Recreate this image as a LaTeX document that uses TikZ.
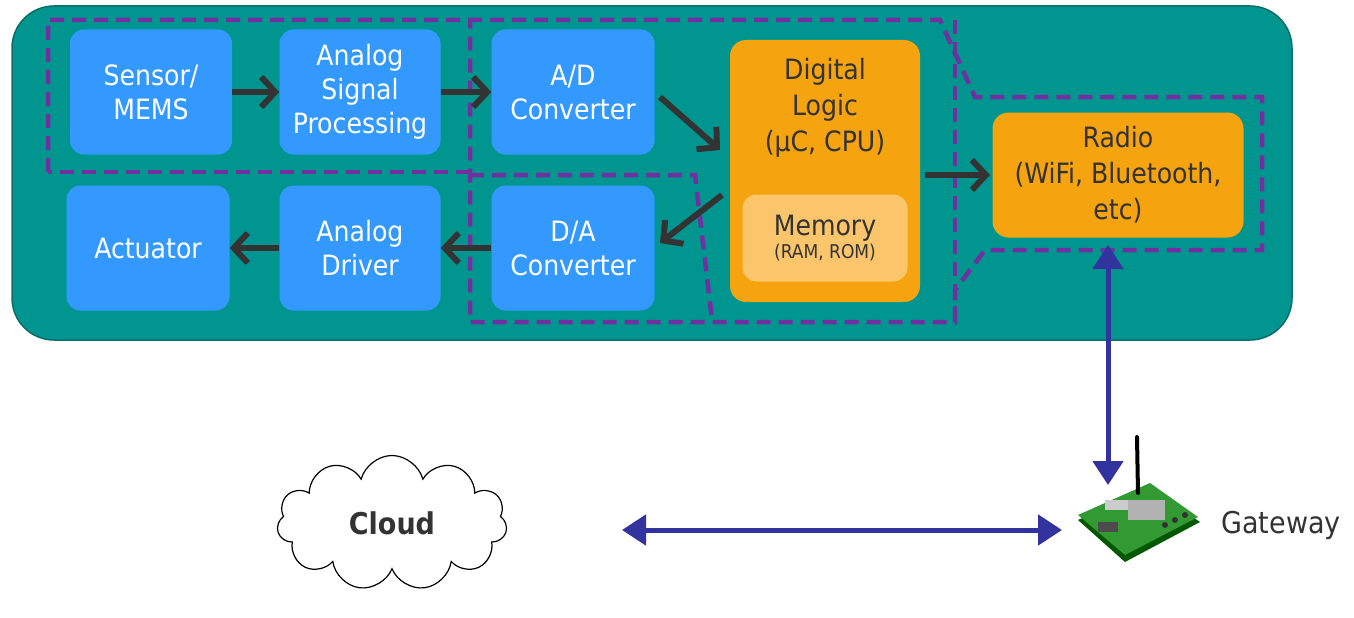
\documentclass[tikz,border=0pt]{standalone}
\usepackage{fontspec}
\setmainfont{DejaVu Sans Condensed}
\usetikzlibrary{shapes.symbols,arrows.meta}
\definecolor{teal1}{HTML}{00968F}
\definecolor{tealb}{HTML}{0B6E6A}
\definecolor{blu}{HTML}{3399FF}
\definecolor{org}{HTML}{F5A30F}
\definecolor{mem}{HTML}{FBC66B}
\definecolor{purp}{HTML}{7030A0}
\definecolor{navy}{HTML}{3333A0}
\definecolor{dk}{HTML}{333333}
\tikzset{
 blk/.style={fill=blu,rounded corners=14pt,text=white,align=center,font=\fontsize{28}{34}\selectfont,inner sep=0pt},
 obx/.style={fill=org,rounded corners=16pt,text=dk,align=center,font=\fontsize{28}{34}\selectfont,inner sep=0pt},
 flow/.style={dk,line width=6pt,-{Straight Barb[length=14pt,width=30pt,line width=6pt]}},
 dsh/.style={purp,line width=4.5pt,dash pattern=on 14pt off 8pt},
 link/.style={navy,line width=5pt,{Triangle[length=24pt,width=30pt]}-{Triangle[length=24pt,width=30pt]}}
}
\begin{document}
\begin{tikzpicture}[x=1pt,y=-1pt]
\useasboundingbox (0,0) rectangle (1354,618);
\fill[white] (0,0) rectangle (1354,618);
\draw[fill=teal1,draw=tealb,line width=1.5pt,rounded corners=42pt] (12,6) rectangle (1292,340);
% dashed
\draw[dsh] (48,172)--(48,20)--(940,20)--(975,97)--(1262,97)--(1262,250)--(985,250)--(955,290)--(955,322)--(470,322)--(470,20);
\draw[dsh] (470,172)--(48,172);
\draw[dsh] (470,175)--(695,175)--(712,320);
\draw[dsh] (955,20)--(955,322);
% blocks
\node[blk,minimum width=162pt,minimum height=125pt] (sen) at (151,92) {Sensor/\\MEMS};
\node[blk,minimum width=161pt,minimum height=125pt] (asp) at (360,92) {Analog\\Signal\\Processing};
\node[blk,minimum width=163pt,minimum height=125pt] (ad) at (573,92) {A/D\\Converter};
\node[blk,minimum width=163pt,minimum height=125pt] (act) at (148,248) {Actuator};
\node[blk,minimum width=161pt,minimum height=125pt] (drv) at (360,248) {Analog\\Driver};
\node[blk,minimum width=163pt,minimum height=125pt] (da) at (573,248) {D/A\\Converter};
\node[obx,minimum width=190pt,minimum height=262pt] (dl) at (825,171) {};
\node[text=dk,align=center,font=\fontsize{28}{36}\selectfont] (dlt) at (825,108) {Digital\\Logic\\(µC, CPU)};
\node[fill=mem,rounded corners=14pt,minimum width=165pt,minimum height=87pt,inner sep=0pt,text=dk,align=center] (mem) at (825,238) {\fontsize{28}{32}\selectfont Memory\\[2pt]\fontsize{19}{22}\selectfont (RAM, ROM)};
\node[obx,minimum width=251pt,minimum height=125pt,font=\fontsize{28}{36}\selectfont] (rad) at (1118,175) {Radio\\(WiFi, Bluetooth,\\etc)};
% flows
\draw[flow] (sen.east)--(asp.west);
\draw[flow] (asp.east)--(ad.west);
\draw[flow] (660,97)--(720,150);
\draw[flow] (925,175)--(990,175);
\draw[flow] (722,195)--(660,243);
\draw[flow] (da.west)--(drv.east);
\draw[flow] (drv.west)--(act.east);
% cloud
\node[cloud,cloud puffs=11,aspect=1.7,draw=black,fill=white,line width=1.2pt,minimum width=230pt,minimum height=135pt,font=\fontsize{30}{36}\selectfont\bfseries,text=dk] (cl) at (392,523) {Cloud};
% gateway
\begin{scope}
\fill[green!35!black] (1078,520)--(1150,488)--(1200,522)--(1125,562)--cycle;
\fill[green!50!black!80] (1078,515)--(1150,483)--(1198,517)--(1125,555)--cycle;
\fill[gray!60] (1128,500) rectangle (1165,520);
\fill[black!70] (1098,522) rectangle (1118,532);
\fill[gray!40] (1105,500) rectangle (1128,510);
\fill[black!80] (1165,525) circle (3pt) (1175,520) circle (3pt) (1185,515) circle (3pt);
\draw[black,line width=4pt,line cap=round] (1137,437)--(1138,493);
\end{scope}
\node[font=\fontsize{30}{36}\selectfont,text=dk,anchor=west] (gwt) at (1218,525) {Gateway};
\draw[link] (1108,245)--(1108,485);
\draw[link] (622,530)--(1062,530);
\end{tikzpicture}
\end{document}
